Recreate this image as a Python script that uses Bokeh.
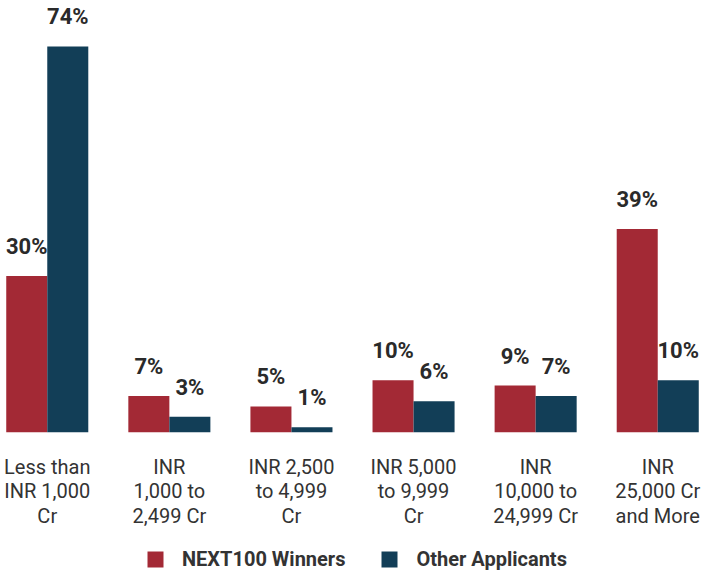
from bokeh.plotting import figure
from bokeh.models import ColumnDataSource, FactorRange, Legend, LegendItem, Range1d
from bokeh.layouts import column
from bokeh.transform import dodge
from bokeh.core.properties import value
from bokeh.embed import file_html
from bokeh.resources import INLINE

categories = [
    "Less than\nINR 1,000\nCr",
    "INR\n1,000 to\n2,499 Cr",
    "INR 2,500\nto 4,999\nCr",
    "INR 5,000\nto 9,999\nCr",
    "INR\n10,000 to\n24,999 Cr",
    "INR\n25,000 Cr\nand More",
]
winners = [30, 7, 5, 10, 9, 39]
others = [74, 3, 1, 6, 7, 10]
series_names = ["NEXT100 Winners", "Other Applicants"]

RED = "#A32935"
NAVY = "#123E57"
TXT = "#2a2a2a"

src = ColumnDataSource(dict(
    cat=categories,
    winners=winners,
    others=others,
    wlab=[f"{v}%" for v in winners],
    olab=[f"{v}%" for v in others],
))

p = figure(
    x_range=FactorRange(*categories, range_padding=-0.117, range_padding_units="absolute"),
    y_range=(0, 82.8),
    frame_width=704, frame_height=432,
    output_backend="svg", toolbar_location=None,
    min_border_left=0, min_border_right=0, min_border_top=0, min_border_bottom=0,
)

bw = 0.336
off = 0.168
p.vbar(x=dodge("cat", -off, range=p.x_range), top="winners", width=bw, source=src,
       fill_color=RED, line_color=None)
p.vbar(x=dodge("cat", off, range=p.x_range), top="others", width=bw, source=src,
       fill_color=NAVY, line_color=None)

for col, lab, o in (("winners", "wlab", -off), ("others", "olab", off)):
    p.text(x=dodge("cat", o, range=p.x_range), y=col, text=lab, source=src,
           text_align="center", text_baseline="bottom", y_offset=-17,
           text_font=value("Roboto"), text_font_style="bold", text_font_size="22px",
           text_color=TXT)

p.yaxis.visible = False
p.xgrid.grid_line_color = None
p.ygrid.grid_line_color = None
p.outline_line_color = None
p.xaxis.axis_line_color = None
p.xaxis.major_tick_line_color = None
p.xaxis.minor_tick_line_color = None
p.xaxis.major_label_text_font = "Roboto"
p.xaxis.major_label_text_font_size = "20px"
p.xaxis.major_label_text_line_height = 1.04
p.xaxis.major_label_text_color = "#333333"
p.xaxis.major_label_standoff = 16

# legend strip below the chart; swatch renderers reuse the series, kept out of view
lf = figure(width=704, height=40, output_backend="svg", toolbar_location=None,
            min_border_left=0, min_border_right=0, min_border_top=0, min_border_bottom=0,
            x_range=p.x_range, y_range=Range1d(1000, 1001))
lf.axis.visible = False
lf.grid.visible = False
lf.outline_line_color = None
far = 50
s1 = lf.vbar(x=dodge("cat", far, range=lf.x_range), top="winners", bottom="winners",
             width=bw, source=src, fill_color=RED, line_color=None)
s2 = lf.vbar(x=dodge("cat", far, range=lf.x_range), top="others", bottom="others",
             width=bw, source=src, fill_color=NAVY, line_color=None)

legend = Legend(items=[LegendItem(label=series_names[0], renderers=[s1]),
                       LegendItem(label=series_names[1], renderers=[s2])],
                orientation="horizontal", location=(145, 0),
                label_text_font="Roboto", label_text_font_style="bold",
                label_text_font_size="20px", label_text_color="#333333",
                glyph_width=20, glyph_height=20, label_standoff=17, spacing=34,
                border_line_color=None, background_fill_alpha=0,
                margin=0, padding=2)
lf.add_layout(legend, "center")

open("out.html", "w").write(file_html(column(p, lf, spacing=0), INLINE))
